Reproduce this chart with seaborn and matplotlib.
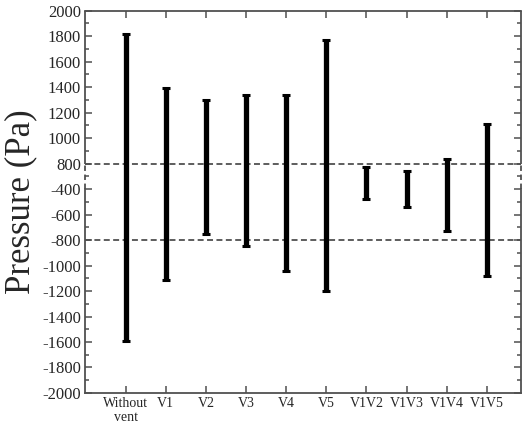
import numpy as np
import pandas as pd
import matplotlib
matplotlib.use("Agg")
import matplotlib.pyplot as plt
import seaborn as sns

# vent configurations and the pressure range (Pa)
cases = ["Without\nvent", "V1", "V2", "V3", "V4", "V5", "V1V2", "V1V3", "V1V4", "V1V5"]
p_max = [1815, 1395, 1300, 1340, 1340, 1770, 650, 450, 840, 1110]
p_min = [-1590, -1110, -750, -850, -1040, -1200, -480, -540, -730, -1080]
y_ticks = [2000, 1800, 1600, 1400, 1200, 1000, 800,
           -400, -600, -800, -1000, -1200, -1400, -1600, -1800, -2000]
ref_lines = [800, -800]

sns.set_style("ticks")
plt.rcParams['font.family'] = ['Liberation Serif', 'DejaVu Serif']

# broken axis: the band from -400 to 800 is squeezed into one tick step
def fwd(v):
    v = np.asarray(v, dtype=float)
    return np.where(v >= 800, v, np.where(v <= -400, v + 1000, 600 + (v + 400) / 6.0))

def inv(p):
    p = np.asarray(p, dtype=float)
    return np.where(p >= 800, p, np.where(p <= 600, p - 1000, -400 + (p - 600) * 6.0))

rows = []
for i, c in enumerate(cases):
    rows.append({"pos": i, "pressure": p_max[i], "case": c})
    rows.append({"pos": i, "pressure": p_min[i], "case": c})
df = pd.DataFrame(rows)

fig = plt.figure(figsize=(5.26, 4.29), dpi=100)
ax = fig.add_axes([0.1616, 0.084, 0.829, 0.891])
ax.set_yscale('function', functions=(fwd, inv))

gray = '#505050'
for y in ref_lines:
    ax.axhline(y, color=gray, lw=1.3, ls=(0, (3.3, 1.9)), zorder=1)

sns.lineplot(data=df, x="pos", y="pressure", units="case", estimator=None,
             sort=False, color="black", lw=3.8, marker="_", ms=5.5, mew=2.2,
             mec="black", solid_capstyle="butt", legend=False, ax=ax, zorder=3)

ax.set_xlim(-1.015, 9.855)
ax.set_ylim(-2000, 2000)
ax.set_xticks(range(len(cases)))
ax.set_xticklabels(cases, fontsize=10, linespacing=1.1)
ax.set_yticks(y_ticks)
ax.set_yticklabels([str(t) for t in y_ticks], fontsize=12)
pos = fwd(sorted(y_ticks))
ax.set_yticks(inv((pos[:-1] + pos[1:]) / 2), minor=True)
ax.set_xlabel("")
ax.set_ylabel("Pressure (Pa)", fontsize=25, labelpad=3)

ax.tick_params(which='both', direction='in', top=True, right=True, color=gray, width=1.1)
ax.tick_params(which='major', length=5, pad=3)
ax.tick_params(which='minor', length=3)
ax.tick_params(axis='x', which='minor', top=False, bottom=False)

for s in ax.spines.values():
    s.set_color(gray)
    s.set_linewidth(1.3)

# dashed spine pieces marking the axis break
lo = (fwd(-400) - fwd(-2000)) / (fwd(2000) - fwd(-2000))
hi = (fwd(800) - fwd(-2000)) / (fwd(2000) - fwd(-2000))
for side in ['left', 'right']:
    ax.spines[side].set_bounds(-2000, -400)
    xs = 0 if side == 'left' else 1
    ax.plot([xs, xs], [hi, 1], transform=ax.transAxes, color=gray, lw=1.3,
            clip_on=False, zorder=4, solid_capstyle='butt')
    ax.plot([xs, xs], [lo, hi], transform=ax.transAxes, color=gray, lw=1.3,
            ls=(0, (3, 2)), clip_on=False, zorder=4)

fig.savefig("out.png", dpi=100)
